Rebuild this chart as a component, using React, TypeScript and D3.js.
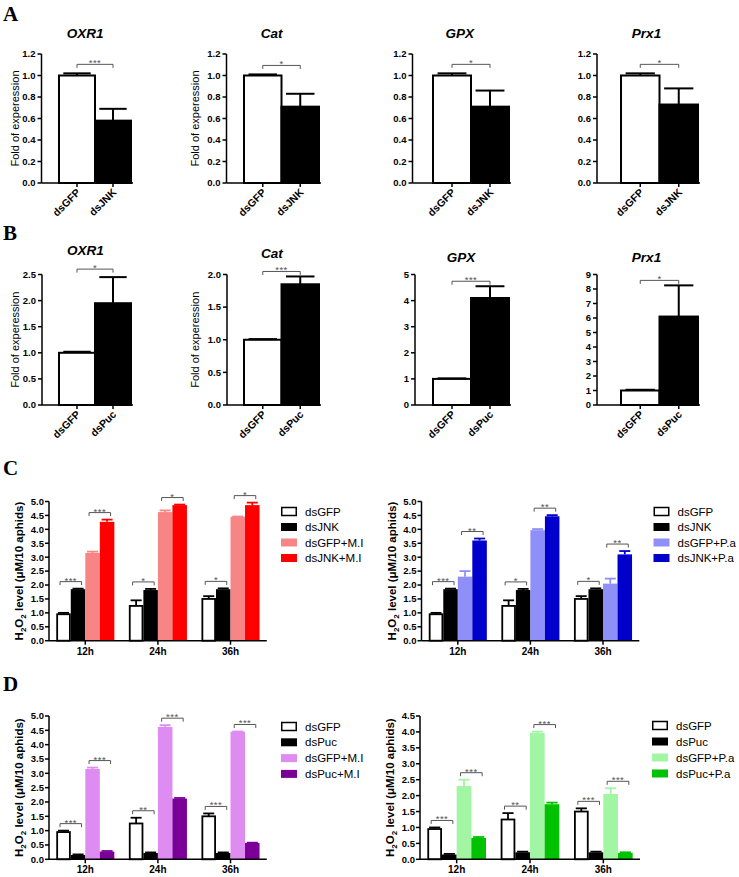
import React from "react";
import * as d3 from "d3";

const FONT = "Arial, 'Liberation Sans', Helvetica, sans-serif";
const SERIF = "'Times New Roman', 'Liberation Serif', serif";

// ---------- Panel A (dsGFP vs dsJNK) ----------
const genes = ["OXR1", "Cat", "GPX", "Prx1"];
const conditionsA = ["dsGFP", "dsJNK"];
const meanA_dsGFP = [1.0, 1.0, 1.0, 1.0];
const seA_dsGFP = [0.02, 0.01, 0.02, 0.02];
const meanA_dsJNK = [0.58, 0.71, 0.71, 0.73];
const seA_dsJNK = [0.11, 0.12, 0.15, 0.15];
const sigA = ["***", "*", "*", "*"];
const yMaxA = [1.2, 1.2, 1.2, 1.2];
const yStepA = [0.2, 0.2, 0.2, 0.2];

// ---------- Panel B (dsGFP vs dsPuc) ----------
const conditionsB = ["dsGFP", "dsPuc"];
const meanB_dsGFP = [1.0, 1.0, 1.0, 1.0];
const seB_dsGFP = [0.02, 0.01, 0.02, 0.05];
const meanB_dsPuc = [1.95, 1.85, 4.1, 6.1];
const seB_dsPuc = [0.5, 0.12, 0.45, 2.15];
const sigB = ["*", "***", "***", "*"];
const yMaxB = [2.5, 2.0, 5, 9];
const yStepB = [0.5, 0.5, 1, 1];

// ---------- Panels C & D ----------
const timePoints = ["12h", "24h", "36h"];

const seriesCL = ["dsGFP", "dsJNK", "dsGFP+M.I", "dsJNK+M.I"];
const seriesCR = ["dsGFP", "dsJNK", "dsGFP+P.a", "dsJNK+P.a"];
const seriesDL = ["dsGFP", "dsPuc", "dsGFP+M.I", "dsPuc+M.I"];
const seriesDR = ["dsGFP", "dsPuc", "dsGFP+P.a", "dsPuc+P.a"];

const h2o2_dsGFP = [0.95, 1.25, 1.5];
const h2o2_dsGFP_se = [0.05, 0.2, 0.1];
const h2o2_dsJNK = [1.85, 1.82, 1.85];
const h2o2_dsJNK_se = [0.02, 0.04, 0.03];
const h2o2_dsGFP_MI = [3.15, 4.62, 4.45];
const h2o2_dsGFP_MI_se = [0.05, 0.06, 0.01];
const h2o2_dsJNK_MI = [4.27, 4.87, 4.87];
const h2o2_dsJNK_MI_se = [0.08, 0.02, 0.09];
const h2o2_dsGFP_Pa = [2.3, 3.97, 2.05];
const h2o2_dsGFP_Pa_se = [0.2, 0.04, 0.18];
const h2o2_dsJNK_Pa = [3.6, 4.47, 3.1];
const h2o2_dsJNK_Pa_se = [0.07, 0.04, 0.12];
const h2o2_dsPuc = [0.15, 0.22, 0.22];
const h2o2_dsPuc_se = [0.02, 0.02, 0.02];
const h2o2_dsPuc_MI = [0.27, 2.12, 0.57];
const h2o2_dsPuc_MI_se = [0.02, 0.02, 0.01];
const h2o2_dsPuc_Pa = [0.67, 1.73, 0.2];
const h2o2_dsPuc_Pa_se = [0.03, 0.05, 0.02];

const sigCL_low = ["***", "*", "*"];
const sigCL_high = ["***", "*", "*"];
const sigCR_low = ["***", "*", "*"];
const sigCR_high = ["**", "**", "**"];
const sigDL_low = ["***", "**", "***"];
const sigDL_high = ["***", "***", "***"];
const sigDR_low = ["***", "**", "***"];
const sigDR_high = ["***", "***", "***"];

const colorsCL = ["#ffffff", "#000000", "#F88585", "#FF0000"];
const colorsCR = ["#ffffff", "#000000", "#8F8FF8", "#0000CC"];
const colorsDL = ["#ffffff", "#000000", "#DE8CF2", "#7A0098"];
const colorsDR = ["#ffffff", "#000000", "#A2F5A2", "#00C200"];

// ---------- Layout ----------
const smallAxisXA = [41.5, 226.5, 412.5, 597];
const smallAxisXB = [42, 227, 415, 597];
const smallBarStart = [59, 244, 433, 621];
const smallBarW = [36, 37.5, 38, 38.5];
const yLabelXAB = [15, 195];
const titleYA = [38, 38, 38, 38];
const titleYB = [255, 258, 262, 262];
const bracketGapA = [9, 9, 9, 9];
const bracketGapB = [8, 5, 5, 5];

type SmallProps = {
  axisX: number; barStart: number; barW: number; y0: number; yTop: number;
  yMax: number; yStep: number; title: string; titleY: number; conds: string[];
  means: number[]; ses: number[]; sig: string; yLabelX: number | null; gap: number;
};

function SmallChart(p: SmallProps) {
  const x = d3.scaleBand().domain(p.conds).range([p.barStart, p.barStart + p.barW * 2]).padding(0);
  const y = d3.scaleLinear().domain([0, p.yMax]).range([p.y0, p.yTop]);
  const ticks = d3.range(0, p.yMax + p.yStep / 2, p.yStep);
  const fmt = p.yStep < 1 ? d3.format(".1f") : d3.format("d");
  const axisEnd = p.barStart + p.barW * 2 + 2;
  const fills = ["#ffffff", "#000000"];
  const bw = x.bandwidth();
  const cx = (c: string) => (x(c) as number) + bw / 2;
  const by = Math.min(...p.means.map((m, i) => y(m + p.ses[i]))) - p.gap;
  const x1 = cx(p.conds[0]);
  const x2 = cx(p.conds[1]);
  return (
    <g fontFamily={FONT}>
      <text x={(p.axisX + axisEnd) / 2 - 2} y={p.titleY} textAnchor="middle" fontSize={13.5}
        fontWeight="bold" fontStyle="italic">{p.title}</text>
      {p.conds.map((c, i) => (
        <g key={c}>
          <rect x={x(c)} y={y(p.means[i])} width={bw} height={p.y0 - y(p.means[i])}
            fill={fills[i]} stroke="#000" strokeWidth={2} />
          <line x1={cx(c)} x2={cx(c)} y1={y(p.means[i])} y2={y(p.means[i] + p.ses[i])}
            stroke="#000" strokeWidth={2} />
          <line x1={cx(c) - bw * 0.38} x2={cx(c) + bw * 0.38} y1={y(p.means[i] + p.ses[i])}
            y2={y(p.means[i] + p.ses[i])} stroke="#000" strokeWidth={2} />
          <line x1={cx(c)} x2={cx(c)} y1={p.y0} y2={p.y0 + 4} stroke="#000" strokeWidth={1.5} />
          <text transform={`translate(${cx(c) + 4},${p.y0 + 10}) rotate(-45)`} textAnchor="end"
            fontSize={10.5} fontWeight="bold">{c}</text>
        </g>
      ))}
      <line x1={p.axisX} x2={axisEnd} y1={p.y0} y2={p.y0} stroke="#000" strokeWidth={1.5} />
      <line x1={p.axisX} x2={p.axisX} y1={p.y0} y2={p.yTop} stroke="#000" strokeWidth={1.5} />
      {ticks.map((t) => (
        <g key={t}>
          <line x1={p.axisX - 4} x2={p.axisX} y1={y(t)} y2={y(t)} stroke="#000" strokeWidth={1.5} />
          <text x={p.axisX - 6} y={y(t)} dy="0.35em" textAnchor="end" fontSize={9.5} fontWeight="bold">{fmt(t)}</text>
        </g>
      ))}
      {p.yLabelX !== null && (
        <text transform={`translate(${p.yLabelX},${(p.y0 + p.yTop) / 2}) rotate(-90)`} dy="0.35em"
          textAnchor="middle" fontSize={11}>Fold of experession</text>
      )}
      <path d={`M${x1},${by + 3.5}V${by}H${x2}V${by + 3.5}`} fill="none" stroke="#555" strokeWidth={1} />
      <text x={(x1 + x2) / 2} y={by + 2} textAnchor="middle" fontSize={9.5} fill="#555" letterSpacing={0.5}>{p.sig}</text>
    </g>
  );
}

type GroupProps = {
  axisX: number; axisEnd: number; y0: number; yTop: number; yMax: number;
  series: string[]; colors: string[]; means: number[][]; ses: number[][];
  sigLow: string[]; sigHigh: string[]; legendY: number; legendStep: number;
};

function GroupChart(p: GroupProps) {
  const x0 = d3.scaleBand().domain(timePoints).range([p.axisX, p.axisEnd]).paddingInner(0.2).paddingOuter(0.1);
  const x1 = d3.scaleBand().domain(p.series).range([0, x0.bandwidth()]).padding(0);
  const y = d3.scaleLinear().domain([0, p.yMax]).range([p.y0, p.yTop]);
  const ticks = d3.range(0, p.yMax + 0.25, 0.5);
  const fmt = d3.format(".1f");
  const bw = x1.bandwidth();
  const labelX = p.axisX - 30;
  const brackets = [
    { a: 0, b: 1, sig: p.sigLow },
    { a: 2, b: 3, sig: p.sigHigh },
  ];
  return (
    <g fontFamily={FONT}>
      {timePoints.map((tp, ti) => {
        const gx = x0(tp) as number;
        return (
          <g key={tp}>
            {p.series.map((s, si) => {
              const bx = gx + (x1(s) as number);
              const m = p.means[si][ti];
              const e = p.ses[si][ti];
              const isWhite = si === 0;
              const col = isWhite ? "#000" : p.colors[si];
              return (
                <g key={s}>
                  <line x1={bx + bw / 2} x2={bx + bw / 2} y1={y(m)} y2={y(m + e)} stroke={col} strokeWidth={1.8} />
                  <line x1={bx + bw * 0.12} x2={bx + bw * 0.88} y1={y(m + e)} y2={y(m + e)} stroke={col} strokeWidth={1.8} />
                  <rect x={isWhite ? bx + 0.9 : bx} y={y(m)} width={isWhite ? bw - 1.8 : bw}
                    height={p.y0 - y(m)} fill={p.colors[si]}
                    stroke={isWhite ? "#000" : "none"} strokeWidth={1.8} />
                </g>
              );
            })}
            {brackets.map((br, bi) => {
              const xa = gx + (x1(p.series[br.a]) as number) + bw / 2 - 3.5;
              const xb = gx + (x1(p.series[br.b]) as number) + bw / 2 + 3.5;
              const top = Math.min(
                y(p.means[br.a][ti] + p.ses[br.a][ti]),
                y(p.means[br.b][ti] + p.ses[br.b][ti])
              );
              const by = top - 7;
              return (
                <g key={bi}>
                  <path d={`M${xa},${by + 3.5}V${by}H${xb}V${by + 3.5}`} fill="none" stroke="#555" strokeWidth={1} />
                  <text x={(xa + xb) / 2} y={by + 2} textAnchor="middle" fontSize={9.5} fill="#555" letterSpacing={0.5}>{br.sig[ti]}</text>
                </g>
              );
            })}
            <line x1={gx + x0.bandwidth() / 2} x2={gx + x0.bandwidth() / 2} y1={p.y0} y2={p.y0 + 4} stroke="#000" strokeWidth={1.5} />
            <text x={gx + x0.bandwidth() / 2} y={p.y0 + 14} textAnchor="middle" fontSize={10} fontWeight="bold">{tp}</text>
          </g>
        );
      })}
      <line x1={p.axisX} x2={p.axisEnd} y1={p.y0} y2={p.y0} stroke="#000" strokeWidth={1.5} />
      <line x1={p.axisX} x2={p.axisX} y1={p.y0} y2={p.yTop} stroke="#000" strokeWidth={1.5} />
      {ticks.map((t) => (
        <g key={t}>
          <line x1={p.axisX - 4} x2={p.axisX} y1={y(t)} y2={y(t)} stroke="#000" strokeWidth={1.5} />
          <text x={p.axisX - 5} y={y(t)} dy="0.35em" textAnchor="end" fontSize={9.5} fontWeight="bold">{fmt(t)}</text>
        </g>
      ))}
      <text transform={`translate(${labelX},${(p.y0 + p.yTop) / 2}) rotate(-90)`} dy="0.35em"
        textAnchor="middle" fontSize={11.5} fontWeight="bold">
        H<tspan fontSize={8} dy="3">2</tspan><tspan dy="-3">O</tspan><tspan fontSize={8} dy="3">2</tspan>
        <tspan dy="-3"> level (μM/10 aphids)</tspan>
      </text>
      {p.series.map((s, si) => {
        const ly = p.legendY + si * p.legendStep;
        const lx = p.axisX + 232;
        return (
          <g key={s}>
            <rect x={si === 0 ? lx + 0.75 : lx} y={ly - 4} width={si === 0 ? 14.5 : 16} height={8}
              fill={p.colors[si]} stroke={si === 0 ? "#000" : "none"} strokeWidth={1.5} />
            <text x={lx + 24} y={ly} dy="0.35em" fontSize={11.5}>{s}</text>
          </g>
        );
      })}
    </g>
  );
}

export default function App() {
  return (
    <svg width={739} height={877} style={{ position: "absolute", left: 0, top: 0, background: "#fff" }}>
      <rect x={0} y={0} width={739} height={877} fill="#fff" />
      <g fontFamily={SERIF} fontWeight="bold" fontSize={21}>
        <text x={3} y={21}>A</text>
        <text x={3} y={240}>B</text>
        <text x={3} y={475}>C</text>
        <text x={3} y={691}>D</text>
      </g>
      {genes.map((g, i) => (
        <SmallChart key={"A" + g} axisX={smallAxisXA[i]} barStart={smallBarStart[i]} barW={smallBarW[i]}
          y0={183} yTop={54} yMax={yMaxA[i]} yStep={yStepA[i]} title={g} titleY={titleYA[i]}
          conds={conditionsA} means={[meanA_dsGFP[i], meanA_dsJNK[i]]} ses={[seA_dsGFP[i], seA_dsJNK[i]]}
          sig={sigA[i]} yLabelX={i < 2 ? yLabelXAB[i] : null} gap={bracketGapA[i]} />
      ))}
      {genes.map((g, i) => (
        <SmallChart key={"B" + g} axisX={smallAxisXB[i]} barStart={smallBarStart[i]} barW={smallBarW[i]}
          y0={405} yTop={274.5} yMax={yMaxB[i]} yStep={yStepB[i]} title={g} titleY={titleYB[i]}
          conds={conditionsB} means={[meanB_dsGFP[i], meanB_dsPuc[i]]} ses={[seB_dsGFP[i], seB_dsPuc[i]]}
          sig={sigB[i]} yLabelX={i < 2 ? yLabelXAB[i] : null} gap={bracketGapB[i]} />
      ))}
      <GroupChart axisX={49} axisEnd={266.8} y0={640.7} yTop={501.5} yMax={5}
        series={seriesCL} colors={colorsCL}
        means={[h2o2_dsGFP, h2o2_dsJNK, h2o2_dsGFP_MI, h2o2_dsJNK_MI]}
        ses={[h2o2_dsGFP_se, h2o2_dsJNK_se, h2o2_dsGFP_MI_se, h2o2_dsJNK_MI_se]}
        sigLow={sigCL_low} sigHigh={sigCL_high} legendY={511.5} legendStep={15.5} />
      <GroupChart axisX={421.5} axisEnd={639.3} y0={640.7} yTop={501.5} yMax={5}
        series={seriesCR} colors={colorsCR}
        means={[h2o2_dsGFP, h2o2_dsJNK, h2o2_dsGFP_Pa, h2o2_dsJNK_Pa]}
        ses={[h2o2_dsGFP_se, h2o2_dsJNK_se, h2o2_dsGFP_Pa_se, h2o2_dsJNK_Pa_se]}
        sigLow={sigCR_low} sigHigh={sigCR_high} legendY={511.5} legendStep={15.5} />
      <GroupChart axisX={49} axisEnd={266.8} y0={859.3} yTop={716} yMax={5}
        series={seriesDL} colors={colorsDL}
        means={[h2o2_dsGFP, h2o2_dsPuc, h2o2_dsGFP_MI, h2o2_dsPuc_MI]}
        ses={[h2o2_dsGFP_se, h2o2_dsPuc_se, h2o2_dsGFP_MI_se, h2o2_dsPuc_MI_se]}
        sigLow={sigDL_low} sigHigh={sigDL_high} legendY={726.5} legendStep={15.8} />
      <GroupChart axisX={420} axisEnd={640} y0={859.3} yTop={716} yMax={4.5}
        series={seriesDR} colors={colorsDR}
        means={[h2o2_dsGFP, h2o2_dsPuc, h2o2_dsGFP_Pa, h2o2_dsPuc_Pa]}
        ses={[h2o2_dsGFP_se, h2o2_dsPuc_se, h2o2_dsGFP_Pa_se, h2o2_dsPuc_Pa_se]}
        sigLow={sigDR_low} sigHigh={sigDR_high} legendY={725.5} legendStep={16} />
    </svg>
  );
}
